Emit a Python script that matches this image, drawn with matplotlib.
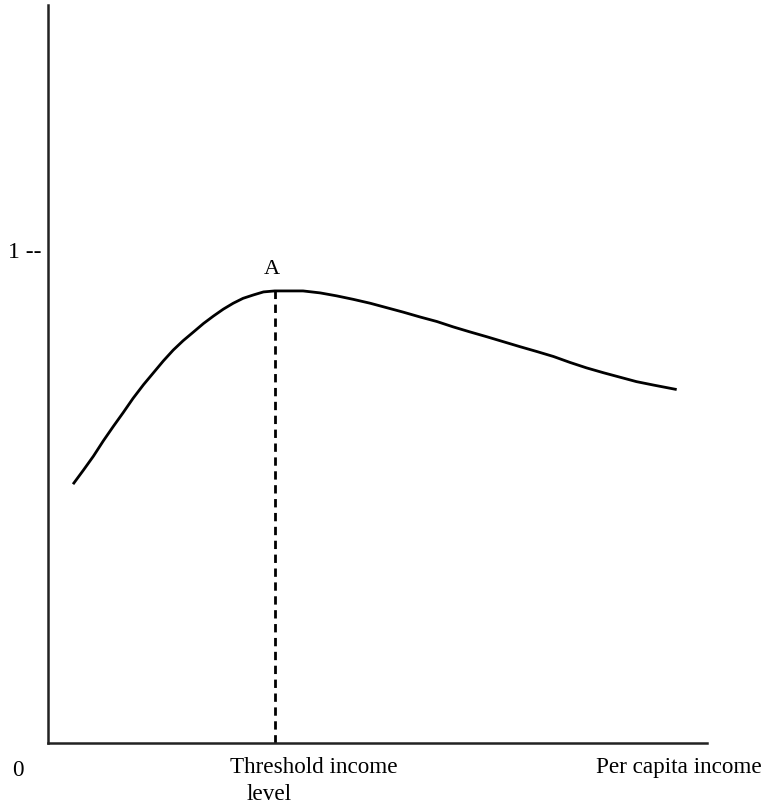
import matplotlib
matplotlib.use("Agg")
import matplotlib.pyplot as plt

plt.rcParams['font.family'] = ['Liberation Serif', 'DejaVu Serif']

# per capita income (axis units) and curve value
income = [0.038, 0.054, 0.069, 0.084, 0.099, 0.114, 0.129, 0.145, 0.160, 0.175,
          0.190, 0.205, 0.221, 0.236, 0.251, 0.266, 0.281, 0.296, 0.312, 0.327,
          0.344, 0.387, 0.413, 0.438, 0.463, 0.489, 0.514, 0.539, 0.565, 0.590,
          0.615, 0.640, 0.666, 0.691, 0.716, 0.742, 0.767, 0.792, 0.817, 0.843,
          0.868, 0.893, 0.919, 0.954]
value = [0.525, 0.554, 0.582, 0.613, 0.642, 0.670, 0.699, 0.727, 0.751, 0.775,
         0.797, 0.816, 0.834, 0.851, 0.866, 0.880, 0.892, 0.902, 0.909, 0.915,
         0.917, 0.917, 0.913, 0.907, 0.900, 0.892, 0.883, 0.874, 0.864, 0.855,
         0.844, 0.834, 0.824, 0.814, 0.804, 0.794, 0.784, 0.772, 0.761, 0.751,
         0.742, 0.733, 0.726, 0.717]
threshold_x = 0.344
threshold_y = 0.917

W, H = 768, 806
fig = plt.figure(figsize=(W / 100, H / 100), dpi=100)
ax = fig.add_axes([48 / W, (H - 743) / H, 659 / W, 738 / H])

ax.plot(income, value, color='black', lw=2.0, solid_joinstyle='round',
        solid_capstyle='butt')
ax.plot([threshold_x, threshold_x], [0, threshold_y], color='black', lw=2.0,
        ls=(0, (3, 2)))

ax.set_xlim(0, 1)
ax.set_ylim(0, 1.497)
for s in ['top', 'right']:
    ax.spines[s].set_visible(False)
for s in ['left', 'bottom']:
    ax.spines[s].set_linewidth(1.8)
    ax.spines[s].set_color('#222222')
ax.set_xticks([])
ax.set_yticks([1])
ax.set_yticklabels(['1 --'], fontsize=17)
ax.tick_params(axis='y', length=0, pad=5)

ax.text(threshold_x - 0.005, threshold_y + 0.025, 'A', fontsize=16,
        ha='center', va='bottom')


def ftext(px, py, s, **kw):
    fig.text(px / W, 1 - py / H, s, fontsize=16.7, va='baseline', **kw)


ftext(12, 776, '0')
ftext(230, 773, 'Threshold income')
ftext(247, 800, 'level')
ftext(762, 773, 'Per capita income', ha='right')

fig.savefig('out.png', dpi=100)
